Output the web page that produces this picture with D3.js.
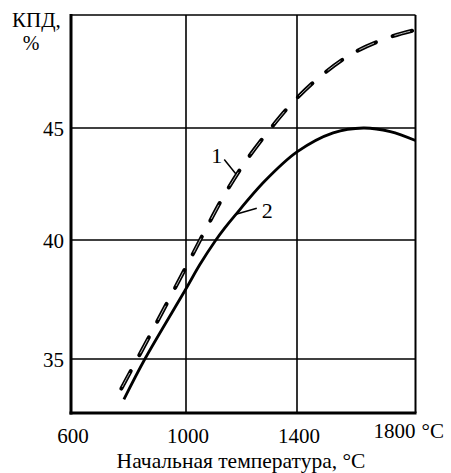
<!DOCTYPE html>
<html>
<head>
<meta charset="utf-8">
<script src="https://cdn.jsdelivr.net/npm/d3@7"></script>
<style>
  html, body { margin: 0; padding: 0; background: #fff; }
  svg { display: block; }
  svg text { font-family: 'Liberation Serif', 'Times New Roman', serif; }
  .grid line { stroke: #000; stroke-width: 1.6; }
</style>
</head>
<body>
<div id="chart"></div>
<script>
// curve 1 (dashed) and curve 2 (solid), efficiency % vs initial temperature
const temps1 = [775, 877, 1004, 1070, 1134, 1206, 1292, 1386, 1485, 1590, 1715, 1800]
const kpd1 = [33.74, 36.05, 38.95, 40.45, 41.92, 43.35, 44.78, 46.15, 47.35, 48.32, 49.03, 49.34]
const temps2 = [784, 857, 1000, 1050, 1104, 1140, 1176, 1284, 1400, 1522, 1624, 1715, 1800]
const kpd2 = [33.28, 35.0, 37.95, 38.97, 39.94, 40.54, 41.09, 42.63, 43.93, 44.78, 45.0, 44.84, 44.44]

const xTicks = [600, 1000, 1400, 1800]
const yTicks = [35, 40, 45]
const yGrid = [35, 40, 45, 50]

// leader labels, anchored on a point near each curve
const labels = ['1', '2']
const labelTemps = [1180, 1183]
const labelKpd = [42.95, 41.16]

const W = 451
const H = 473
const margin = { top: 15, left: 71 }
const width = 344.5
const height = 398

// the printed grid is slightly uneven, so the scales are piecewise
const x = d3.scaleLinear()
  .domain([600, 1000, 1400, 1800])
  .range([0, 115, 226, width])
const y = d3.scaleLinear()
  .domain([32.7, 35, 40, 45, 50])
  .range([height, 344, 225, 113, 0])

const svg = d3.select('#chart').append('svg')
  .attr('width', W)
  .attr('height', H)

const g = svg.append('g').attr('transform', `translate(${margin.left},${margin.top})`)

// grid
const grid = g.append('g').classed('grid', true)
grid.selectAll('line.v')
  .data(xTicks.slice(1, -1))
  .join('line')
  .attr('class', 'v')
  .attr('x1', d => x(d)).attr('x2', d => x(d))
  .attr('y1', 0).attr('y2', height)
grid.selectAll('line.h')
  .data(yGrid)
  .join('line')
  .attr('class', 'h')
  .attr('x1', 0).attr('x2', width)
  .attr('y1', d => y(d)).attr('y2', d => y(d))

// frame: right side thin, left + bottom heavy
g.append('line')
  .attr('x1', width).attr('x2', width)
  .attr('y1', 0).attr('y2', height)
  .attr('stroke', '#000').attr('stroke-width', 2)

const xAxis = d3.axisBottom(x).tickValues(xTicks).tickSize(0).tickPadding(0).tickFormat('')
const yAxis = d3.axisLeft(y).tickValues(yTicks).tickSize(0).tickPadding(0).tickFormat('')

g.append('g')
  .attr('transform', `translate(0,${height})`)
  .call(xAxis)
  .call(s => s.select('.domain').attr('stroke-width', 3).attr('d', `M-1.5,0H${width + 1}`))

g.append('g')
  .call(yAxis)
  .call(s => s.select('.domain').attr('stroke-width', 3).attr('d', `M0,${height + 1.5}V-1`))

// tick labels
const last = xTicks.length - 1
g.append('g')
  .selectAll('text')
  .data(xTicks)
  .join('text')
  .attr('x', (d, i) => x(d) + (i === last ? 0 : 2))
  .attr('y', (d, i) => height + (i === last ? 25 : 30))
  .attr('text-anchor', (d, i) => (i === last ? 'end' : 'middle'))
  .attr('font-size', 21)
  .text(d => d)

g.append('text')
  .attr('x', x(1800) + 6)
  .attr('y', height + 25)
  .attr('font-size', 21)
  .text('°C')

g.append('g')
  .selectAll('text')
  .data(yTicks)
  .join('text')
  .attr('x', -7)
  .attr('y', d => y(d))
  .attr('dy', '0.36em')
  .attr('text-anchor', 'end')
  .attr('font-size', 21)
  .text(d => d)

svg.append('text')
  .attr('x', 12)
  .attr('y', 27)
  .attr('font-size', 21)
  .text('КПД,')
svg.append('text')
  .attr('x', 31)
  .attr('y', 50)
  .attr('text-anchor', 'middle')
  .attr('font-size', 20)
  .text('%')

svg.append('text')
  .attr('x', 241)
  .attr('y', 468)
  .attr('text-anchor', 'middle')
  .attr('font-size', 21.5)
  .text('Начальная температура, °С')

// curves
const line = d3.line()
  .x(d => x(d[0]))
  .y(d => y(d[1]))
  .curve(d3.curveCatmullRom)

const series1 = d3.zip(temps1, kpd1)
const series2 = d3.zip(temps2, kpd2)

g.append('path')
  .datum(series2)
  .attr('d', line)
  .attr('fill', 'none')
  .attr('stroke', '#000')
  .attr('stroke-width', 2.8)

g.append('path')
  .datum(series1)
  .attr('d', line)
  .attr('fill', 'none')
  .attr('stroke', '#000')
  .attr('stroke-width', 4)
  .attr('stroke-linecap', 'round')
  .attr('stroke-dasharray', '20,18')

// light core inside each dash, as in the printed figure
g.append('path')
  .datum(series1)
  .attr('d', line)
  .attr('fill', 'none')
  .attr('stroke', '#c8c8c8')
  .attr('stroke-width', 0.9)
  .attr('stroke-dasharray', '16,22')
  .attr('stroke-dashoffset', -2)

// labels with leaders
const offsets = [[-11.7, -14.5], [20, -5.7]]
const ann = g.append('g')
labels.forEach((label, i) => {
  const px = x(labelTemps[i])
  const py = y(labelKpd[i])
  const [dx, dy] = offsets[i]
  ann.append('line')
    .attr('x1', px).attr('y1', py)
    .attr('x2', px + dx).attr('y2', py + dy)
    .attr('stroke', '#000')
    .attr('stroke-width', 1.5)
  ann.append('text')
    .attr('x', i === 0 ? px + dx - 2 : px + dx + 5)
    .attr('y', i === 0 ? py + dy + 4 : py + dy + 10)
    .attr('text-anchor', i === 0 ? 'end' : 'start')
    .attr('font-size', 22)
    .text(label)
})
</script>
</body>
</html>
